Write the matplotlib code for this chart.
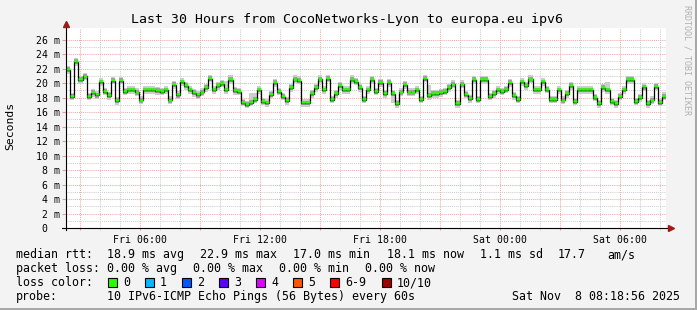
import numpy as np
import matplotlib.pyplot as plt
from matplotlib.patches import Rectangle

W, H = 697, 310

title = "Last 30 Hours from CocoNetworks-Lyon to europa.eu ipv6"
span_hours = 30
first_label_h = 3.6844  # Fri 06:00, counted from the graph start (Fri 02:18:56)
tick_labels = ["Fri 06:00", "Fri 12:00", "Fri 18:00", "Sat 00:00", "Sat 06:00"]
y_ticks = list(range(0, 27, 2))
y_tick_labels = ["0  "] + [f"{v} m" for v in range(2, 27, 2)]
y_top = 27.59

# median rtt in ms, one value per consolidated step
median_ms = [
    21.8, 18.1, 22.9, 20.4, 20.9, 18.1, 18.6, 18.3, 20.1, 18.8, 18.2, 20.3, 17.5,
    20.3, 18.8, 19.0, 19.0, 18.7, 17.6, 19.0, 19.0, 19.0, 18.9, 18.8, 19.0,
    17.6, 19.7, 18.3, 20.1, 19.6, 19.0, 18.6, 18.3, 18.7, 19.3, 20.6, 19.0, 19.6,
    19.9, 19.0, 20.4, 18.9, 18.8, 17.3, 17.0, 17.3, 17.7, 19.0, 17.4, 17.2,
    18.4, 20.0, 18.8, 18.1, 17.5, 19.3, 20.5, 20.3, 17.2, 17.2, 18.5, 19.3, 20.5,
    19.0, 20.6, 17.7, 18.5, 19.6, 19.0, 19.0, 20.4, 20.2, 19.3, 17.7, 19.0,
    20.4, 18.8, 20.0, 18.5, 20.0, 18.5, 17.1, 18.7, 19.7, 18.7, 18.7, 19.0, 17.7,
    20.6, 18.2, 18.5, 18.5, 18.6, 18.8, 19.3, 19.8, 17.1, 19.8, 18.4, 17.8,
    20.4, 17.7, 20.4, 20.4, 18.1, 18.5, 19.0, 18.8, 19.1, 20.0, 18.2, 17.7, 20.1,
    19.6, 20.5, 19.0, 19.0, 20.1, 19.1, 17.7, 17.7, 19.0, 17.6, 18.5, 19.6,
    17.4,
    19.0, 19.0, 19.0, 19.0, 18.0, 17.1, 19.3, 19.0, 17.4, 17.1, 18.1, 19.0, 20.4,
    20.4, 17.4, 17.9, 19.4, 17.1, 17.6, 19.5, 17.3, 18.1,
]
# where the smoke (ping spread) reaches further than usual
smoke_top_idx = [2, 39, 40, 45, 46, 57, 70, 75, 89, 133, 147]
smoke_top_val = [23.4, 20.3, 21.1, 18.6, 18.6, 20.9, 21.1, 20.9, 19.7, 20.2, 18.8]
smoke_bot_idx = [80]
smoke_bot_val = [17.2]

loss_labels = ["0", "1", "2", "3", "4", "5", "6-9", "10/10"]
loss_colors = ["#26ff00", "#00b8ff", "#0059ff", "#5e00ff", "#dd00ff",
               "#ff5500", "#ff0000", "#a10000"]

stats_rtt = ["18.9 ms avg", "22.9 ms max", "17.0 ms min", "18.1 ms now",
             "1.1 ms sd", "17.7", "am/s"]
stats_loss = ["0.00 % avg", "0.00 % max", "0.00 % min", "0.00 % now"]
probe_text = "10 IPv6-ICMP Echo Pings (56 Bytes) every 60s"
stamp_text = "Sat Nov  8 08:18:56 2025"

MONO = "DejaVu Sans Mono"
plt.rcParams["font.family"] = MONO


def fx(px):
    return px / W


def fy(py):
    return 1 - py / H


fig = plt.figure(figsize=(W / 100, H / 100), dpi=100)
fig.patch.set_facecolor("#f3f3f3")
# rrdtool style frame
fig.add_artist(Rectangle((0, 0), 1, 2 / H, transform=fig.transFigure,
                         color="#a8a8a8", lw=0))
fig.add_artist(Rectangle((1 - 2 / W, 0), 2 / W, 1, transform=fig.transFigure,
                         color="#a8a8a8", lw=0))

ax = fig.add_axes([fx(66.3), fy(228), 600 / W, 200 / H])
ax.set_facecolor("white")
ax.set_xlim(0, span_hours)
ax.set_ylim(0, y_top)
for s in ax.spines.values():
    s.set_visible(False)

# grid
dot = (0, (1, 1))
hour_lines = first_label_h - 3 + np.arange(0, span_hours)
hour_lines = hour_lines[hour_lines < span_hours]
major_x = hour_lines[::3]
minor_x = [h for i, h in enumerate(hour_lines) if i % 3]
ax.vlines(minor_x, 0, y_top, colors="#cfcfcf", linestyles=dot, lw=0.75, zorder=1)
ax.hlines(np.arange(1, 27, 2), 0, span_hours, colors="#cfcfcf", linestyles=dot,
          lw=0.75, zorder=1)
ax.vlines(major_x, 0, y_top, colors="#eeaaaa", linestyles=dot, lw=0.75, zorder=1)
ax.hlines(y_ticks[1:], 0, span_hours, colors="#eeaaaa", linestyles=dot, lw=0.75,
          zorder=1)
# small tick marks outside the axes
ax.vlines(minor_x, -0.3, 0, colors="#cccccc", lw=0.75, clip_on=False)
ax.vlines(major_x, -0.3, 0, colors="#eb9a9a", lw=0.75, clip_on=False)
ax.hlines(y_ticks[1:], -0.2, 0, colors="#eb9a9a", lw=0.75, clip_on=False)

# smoke and median
med = np.array(median_ms)
n = len(med)
edges = np.linspace(0, span_hours, n + 1)
lo = med - 0.5
hi = med + 0.55
hi[smoke_top_idx] = smoke_top_val
lo[smoke_bot_idx] = smoke_bot_val
ax.fill_between(edges, np.append(lo, lo[-1]), np.append(hi, hi[-1]), step="post",
                color="#cdcdcd", lw=0, zorder=2)
ax.fill_between(edges, np.append(med - 0.3, med[-1] - 0.3),
                np.append(med + 0.38, med[-1] + 0.38), step="post",
                color="#a0a0a0", lw=0, zorder=2)
ax.step(edges, np.append(med, med[-1]), where="post", color="black", lw=0.9, zorder=3)
ax.hlines(med + 0.12, edges[:-1], edges[1:], colors=loss_colors[0], lw=1.8, zorder=4)

# axes with arrows
ax.plot([-0.2, 30.15], [0, 0], color="black", lw=0.8, clip_on=False, zorder=5)
ax.plot([0, 0], [-0.3, 28.0], color="black", lw=0.8, clip_on=False, zorder=5)
ax.plot([0], [28.2], marker="^", ms=4.5, color="#a01818", clip_on=False, zorder=6)
ax.plot([30.23], [0], marker=">", ms=4.5, color="#a01818", clip_on=False, zorder=6)

ax.set_xticks(first_label_h + 6 * np.arange(len(tick_labels)))
ax.set_xticklabels(tick_labels, fontsize=7.1)
ax.set_yticks(y_ticks)
ax.set_yticklabels(y_tick_labels, fontsize=7.1)
ax.tick_params(axis="both", length=0)
ax.tick_params(axis="x", pad=5)
ax.tick_params(axis="y", pad=4.5)

# texts around the plot
fig.text(fx(347), fy(23), title, ha="center", va="baseline", fontsize=9.5)
fig.text(fx(10), fy(126), "Seconds", rotation=90, ha="center", va="center",
         fontsize=8.2)
fig.text(fx(687.5), fy(60), "RRDTOOL / TOBI OETIKER", rotation=270, ha="center",
         va="center", fontsize=6, color="#b0b0b0")

leg_size = 8.4
rtt_x = [107, 200, 293, 387, 480, 558, 607]
loss_x = [107, 193, 279, 365]
fig.text(fx(16), fy(258), "median rtt:", fontsize=leg_size, va="baseline")
for x, s in zip(rtt_x, stats_rtt):
    fig.text(fx(x), fy(258), s, fontsize=leg_size, va="baseline")
fig.text(fx(16), fy(272), "packet loss:", fontsize=leg_size, va="baseline")
for x, s in zip(loss_x, stats_loss):
    fig.text(fx(x), fy(272), s, fontsize=leg_size, va="baseline")

fig.text(fx(16), fy(286), "loss color:", fontsize=leg_size, va="baseline")
box_x = [108, 145, 182, 219, 256, 293, 330, 382]
for x, lab, c in zip(box_x, loss_labels, loss_colors):
    fig.add_artist(Rectangle((fx(x), fy(287)), 9 / W, 9 / H, transform=fig.transFigure,
                             facecolor=c, edgecolor="black", lw=0.8))
    fig.text(fx(x + 15), fy(286), lab, fontsize=leg_size, va="baseline")

fig.text(fx(16), fy(300), "probe:", fontsize=leg_size, va="baseline")
fig.text(fx(107), fy(300), probe_text, fontsize=leg_size, va="baseline")
fig.text(fx(680), fy(300), stamp_text, fontsize=leg_size, va="baseline", ha="right")

fig.savefig("out.png", dpi=100, facecolor=fig.get_facecolor())
